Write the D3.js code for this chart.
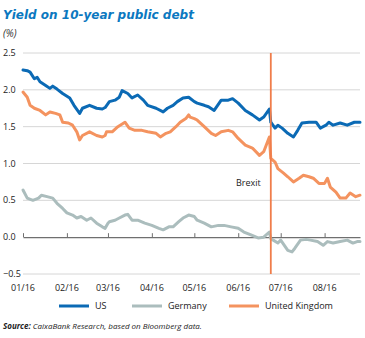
<!DOCTYPE html>
<html>
<head>
<meta charset="utf-8">
<script src="https://cdn.jsdelivr.net/npm/d3@7"></script>
<style>
  html, body { margin: 0; padding: 0; background: #fff; }
  svg { display: block; }
</style>
</head>
<body>
<svg id="chart" width="365" height="338"></svg>
<script>
// ---------- DATA ----------
const title = "Yield on 10-year public debt";
const unitLabel = "(%)";
const yTicks = [-0.5, 0.0, 0.5, 1.0, 1.5, 2.0, 2.5];
const xTickDates = ["2016-01-01","2016-02-01","2016-03-01","2016-04-01","2016-05-01","2016-06-01","2016-07-01","2016-08-01"];
const xTickLabels = ["01/16","02/16","03/16","04/16","05/16","06/16","07/16","08/16"];
const seriesNames = ["US", "Germany", "United Kingdom"];
const brexitDate = "2016-06-24";
const brexitLabel = "Brexit";

const usDates = ["2016-01-01","2016-01-04","2016-01-06","2016-01-09","2016-01-11","2016-01-13","2016-01-17","2016-01-20","2016-01-22","2016-01-25","2016-01-29",
  "2016-02-03","2016-02-06","2016-02-10","2016-02-12","2016-02-17","2016-02-22","2016-02-26","2016-02-28","2016-03-02","2016-03-06","2016-03-09","2016-03-11","2016-03-15","2016-03-18","2016-03-22","2016-03-26","2016-03-29",
  "2016-04-04","2016-04-09","2016-04-12","2016-04-16","2016-04-19","2016-04-23","2016-04-27","2016-05-01","2016-05-03","2016-05-08","2016-05-11","2016-05-15","2016-05-20","2016-05-25","2016-05-28",
  "2016-06-01","2016-06-06","2016-06-11","2016-06-16","2016-06-19","2016-06-23","2016-06-24","2016-06-27","2016-06-29","2016-07-02","2016-07-06","2016-07-10","2016-07-13","2016-07-16","2016-07-21","2016-07-26","2016-07-29",
  "2016-08-02","2016-08-04","2016-08-07","2016-08-12","2016-08-17","2016-08-22","2016-08-26"];
const usValues = [2.27,2.26,2.24,2.15,2.17,2.11,2.06,2.02,2.05,2.01,1.95,
  1.89,1.79,1.68,1.75,1.79,1.75,1.74,1.76,1.84,1.86,1.90,1.99,1.95,1.89,1.93,1.86,1.79,
  1.75,1.70,1.75,1.79,1.84,1.89,1.90,1.84,1.82,1.79,1.77,1.72,1.86,1.86,1.88,
  1.82,1.72,1.66,1.59,1.63,1.74,1.56,1.48,1.52,1.48,1.41,1.36,1.45,1.55,1.56,1.56,1.48,
  1.52,1.56,1.52,1.55,1.52,1.56,1.56];

const deDates = ["2016-01-01","2016-01-04","2016-01-08","2016-01-12","2016-01-14","2016-01-18","2016-01-22","2016-01-25","2016-01-29",
  "2016-02-01","2016-02-05","2016-02-08","2016-02-11","2016-02-15","2016-02-18","2016-02-22","2016-02-26","2016-02-28",
  "2016-03-01","2016-03-02","2016-03-06","2016-03-09","2016-03-13","2016-03-15","2016-03-18","2016-03-22","2016-03-27",
  "2016-04-01","2016-04-06","2016-04-09","2016-04-13","2016-04-16","2016-04-20","2016-04-23","2016-04-27",
  "2016-05-01","2016-05-03","2016-05-08","2016-05-13","2016-05-18","2016-05-22","2016-05-27",
  "2016-06-01","2016-06-05","2016-06-10","2016-06-15","2016-06-19","2016-06-23","2016-06-24","2016-06-29",
  "2016-07-01","2016-07-06","2016-07-09","2016-07-11","2016-07-15","2016-07-19","2016-07-22","2016-07-27","2016-07-31",
  "2016-08-03","2016-08-07","2016-08-12","2016-08-17","2016-08-21","2016-08-24","2016-08-26"];
const deValues = [0.64,0.53,0.50,0.53,0.57,0.55,0.53,0.46,0.39,
  0.33,0.30,0.26,0.28,0.23,0.26,0.19,0.14,0.12,
  0.19,0.21,0.23,0.26,0.30,0.31,0.23,0.23,0.19,
  0.16,0.12,0.10,0.14,0.14,0.21,0.26,0.30,
  0.28,0.23,0.19,0.14,0.16,0.16,0.14,
  0.12,0.07,0.03,-0.01,0.00,0.07,-0.02,-0.08,
  -0.04,-0.18,-0.20,-0.15,-0.04,-0.03,-0.04,-0.06,-0.11,
  -0.06,-0.08,-0.06,-0.04,-0.08,-0.06,-0.06];

const ukDates = ["2016-01-01","2016-01-04","2016-01-06","2016-01-09","2016-01-13","2016-01-17","2016-01-20","2016-01-24","2016-01-27","2016-01-29",
  "2016-02-02","2016-02-05","2016-02-08","2016-02-10","2016-02-12","2016-02-17","2016-02-22","2016-02-26","2016-02-28","2016-02-29",
  "2016-03-04","2016-03-08","2016-03-13","2016-03-16","2016-03-20","2016-03-25","2016-03-29",
  "2016-04-04","2016-04-07","2016-04-11","2016-04-14","2016-04-18","2016-04-21","2016-04-25","2016-04-27","2016-04-28",
  "2016-05-01","2016-05-03","2016-05-08","2016-05-13","2016-05-16","2016-05-20","2016-05-25","2016-05-28",
  "2016-06-01","2016-06-06","2016-06-11","2016-06-16","2016-06-19","2016-06-23","2016-06-24","2016-06-27","2016-06-29",
  "2016-07-03","2016-07-06","2016-07-10","2016-07-14","2016-07-17","2016-07-21","2016-07-24","2016-07-28",
  "2016-08-01","2016-08-03","2016-08-05","2016-08-09","2016-08-12","2016-08-16","2016-08-19","2016-08-23","2016-08-26"];
const ukValues = [1.97,1.90,1.79,1.75,1.72,1.66,1.70,1.68,1.66,1.56,
  1.55,1.52,1.43,1.32,1.38,1.43,1.38,1.36,1.38,1.43,
  1.43,1.50,1.56,1.48,1.45,1.45,1.43,
  1.41,1.36,1.41,1.43,1.50,1.56,1.61,1.66,1.63,
  1.61,1.59,1.50,1.41,1.38,1.43,1.45,1.43,
  1.34,1.25,1.21,1.11,1.16,1.36,1.07,1.02,0.93,
  0.87,0.82,0.75,0.80,0.84,0.82,0.80,0.73,
  0.73,0.80,0.68,0.61,0.53,0.53,0.60,0.55,0.57];

const seriesColors = ["#0b6ab5", "#abbdbd", "#f4935f"];
const brexitColor = "#f07d4a";

// ---------- CHART ----------
const baseFont = "'Open Sans', 'Noto Sans', sans-serif";
const parse = d3.timeParse("%Y-%m-%d");
const svg = d3.select("#chart").style("font-family", baseFont);

const x = d3.scaleTime()
  .domain([parse("2016-01-01"), parse("2016-08-26")])
  .range([23, 360]);
const y = d3.scaleLinear()
  .domain([-0.5, 2.5])
  .range([274, 53]);

// Title
svg.append("text")
  .attr("x", 3).attr("y", 19)
  .style("font-family", "'DejaVu Sans', sans-serif")
  .style("font-size", "12px").style("font-weight", "bold").style("font-style", "italic")
  .attr("fill", "#0b78c0")
  .text(title);
svg.append("text")
  .attr("x", 3).attr("y", 37)
  .style("font-size", "10px").style("font-style", "italic").attr("fill", "#333")
  .text(unitLabel);

// Grid lines
svg.append("g").selectAll("line")
  .data(yTicks.filter(v => v !== 0))
  .join("line")
  .attr("x1", x.range()[0]).attr("x2", x.range()[1])
  .attr("y1", d => y(d)).attr("y2", d => y(d))
  .attr("stroke", "#d6d6d6").attr("stroke-width", 1);

// Y labels
svg.append("g").selectAll("text")
  .data(yTicks)
  .join("text")
  .attr("x", 3).attr("y", d => y(d)).attr("dy", "0.35em")
  .style("font-size", "9px").attr("fill", "#222")
  .text(d => d3.format(".1f")(d));

// Zero axis with month ticks
const xAxis = d3.axisTop(x)
  .tickValues(xTickDates.map(parse))
  .tickSize(4)
  .tickSizeOuter(0)
  .tickFormat("");
const axisG = svg.append("g")
  .attr("transform", `translate(0,${y(0)})`)
  .call(xAxis);
axisG.select(".domain").attr("stroke", "#6f6f6f").attr("stroke-width", 1.2);
axisG.selectAll(".tick line").attr("stroke", "#6f6f6f").attr("stroke-width", 1);

// X labels at bottom
svg.append("g").selectAll("text")
  .data(xTickDates)
  .join("text")
  .attr("x", d => x(parse(d))).attr("y", 291)
  .attr("text-anchor", "middle")
  .style("font-size", "9px").attr("fill", "#222")
  .text((d, i) => xTickLabels[i]);

// Lines
const line = d3.line()
  .x(d => x(d.date)).y(d => y(d.value))
  .curve(d3.curveLinear);
const series = [
  { name: seriesNames[1], color: seriesColors[1], dates: deDates, values: deValues },
  { name: seriesNames[2], color: seriesColors[2], dates: ukDates, values: ukValues },
  { name: seriesNames[0], color: seriesColors[0], dates: usDates, values: usValues }
];
series.forEach(s => {
  const pts = s.dates.map((d, i) => ({ date: parse(d), value: s.values[i] }));
  svg.append("path")
    .datum(pts)
    .attr("d", line)
    .attr("fill", "none")
    .attr("stroke", s.color)
    .attr("stroke-width", 3)
    .attr("stroke-linejoin", "round")
    .attr("stroke-linecap", "round");
});

// Brexit line
svg.append("line")
  .attr("x1", x(parse(brexitDate))).attr("x2", x(parse(brexitDate)))
  .attr("y1", y(2.5)).attr("y2", y(-0.5))
  .attr("stroke", brexitColor).attr("stroke-width", 1.8);
svg.append("text")
  .attr("x", x(parse(brexitDate)) - 10).attr("y", 186)
  .attr("text-anchor", "end")
  .style("font-size", "9px").attr("fill", "#222")
  .text(brexitLabel);

// Legend
const legendItems = [
  { name: seriesNames[0], color: seriesColors[0], x1: 59 },
  { name: seriesNames[1], color: seriesColors[1], x1: 132 },
  { name: seriesNames[2], color: seriesColors[2], x1: 229 }
];
const lg = svg.append("g");
legendItems.forEach(it => {
  lg.append("line")
    .attr("x1", it.x1).attr("x2", it.x1 + 30)
    .attr("y1", 306).attr("y2", 306)
    .attr("stroke", it.color).attr("stroke-width", 3);
  lg.append("text")
    .attr("x", it.x1 + 36).attr("y", 306).attr("dy", "0.35em")
    .style("font-size", "9px").attr("fill", "#222")
    .text(it.name);
});

// Source
const src = svg.append("text")
  .attr("x", 3).attr("y", 329)
  .style("font-size", "8px").style("font-style", "italic").attr("fill", "#222");
src.append("tspan").style("font-weight", "bold").text("Source:");
src.append("tspan").text(" CaixaBank Research, based on Bloomberg data.");
</script>
</body>
</html>
